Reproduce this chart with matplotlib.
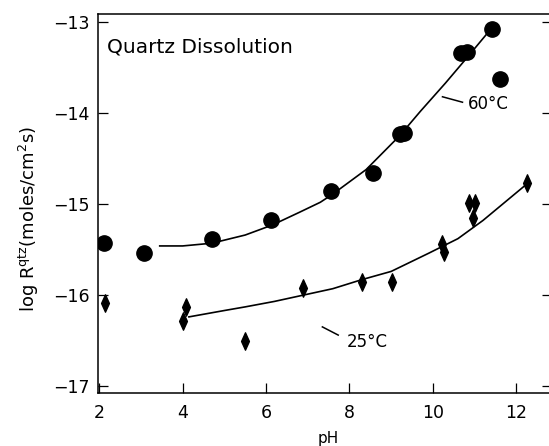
import matplotlib
matplotlib.use("Agg")
import matplotlib.pyplot as plt
from matplotlib.path import Path

plt.rcParams['font.family'] = ['DejaVu Sans']
plt.rcParams['mathtext.fontset'] = 'dejavusans'

# 60 C measurements (circles)
ph_60 = [2.12, 3.08, 4.71, 6.13, 7.56, 8.57, 9.2, 9.3, 10.68, 10.82, 11.42, 11.62]
rate_60 = [-15.43, -15.54, -15.38, -15.18, -14.86, -14.66, -14.23, -14.22, -13.34, -13.33, -13.07, -13.62]

# 60 C fitted curve
fit_ph_60 = [3.45, 4.0, 4.7, 5.5, 6.15, 6.8, 7.3, 7.6, 8.4, 9.2, 9.7, 10.3, 10.8, 11.4]
fit_rate_60 = [-15.46, -15.46, -15.43, -15.34, -15.23, -15.09, -14.98, -14.89,
               -14.62, -14.25, -13.98, -13.67, -13.40, -13.07]

# 25 C measurements (diamonds)
ph_25 = [2.14, 4.0, 4.08, 5.5, 6.89, 8.31, 9.03, 10.22, 10.27, 10.86, 11.02, 10.97, 12.26]
rate_25 = [-16.09, -16.29, -16.13, -16.5, -15.92, -15.86, -15.86, -15.44, -15.53,
           -14.99, -14.99, -15.15, -14.77]

# 25 C fitted curve
fit_ph_25 = [4.15, 5.0, 5.5, 6.2, 6.9, 7.6, 8.3, 9.0, 9.9, 10.6, 11.2, 12.25]
fit_rate_25 = [-16.24, -16.17, -16.13, -16.07, -16.0, -15.93, -15.83, -15.74,
               -15.54, -15.38, -15.18, -14.78]

x_ticks = [2, 4, 6, 8, 10, 12]
y_ticks = [-17, -16, -15, -14, -13]

# tall narrow diamond marker
diamond = Path([(0, 1), (0.45, 0), (0, -1), (-0.45, 0), (0, 1)],
               [Path.MOVETO, Path.LINETO, Path.LINETO, Path.LINETO, Path.CLOSEPOLY])

fig = plt.figure(figsize=(5.49, 4.46), dpi=100)
ax = fig.add_axes([0.1785, 0.1188, 0.8265, 0.8498])

ax.plot(fit_ph_60, fit_rate_60, color='black', lw=1.2)
ax.plot(fit_ph_25, fit_rate_25, color='black', lw=1.2)
ax.plot(ph_60, rate_60, 'o', color='black', ms=11, ls='none')
ax.plot(ph_25, rate_25, marker=diamond, color='black', ms=12.5, ls='none')

ax.set_xlim(1.97, 12.85)
ax.set_ylim(-17.077, -12.91)
ax.set_xticks(x_ticks)
ax.set_yticks(y_ticks)
ax.set_yticklabels(['\u221217', '\u221216', '\u221215', '\u221214', '\u221213'])

ax.tick_params(direction='in', length=7, width=0.9, labelsize=12.5,
               right=True, top=False)
ax.tick_params(axis='x', pad=8)
ax.tick_params(axis='y', pad=6)
for sp in ax.spines.values():
    sp.set_linewidth(1.1)

ax.set_xlabel('pH', fontsize=11)
ax.xaxis.set_label_coords(0.507, -0.1)
ax.set_ylabel(r'log R$^{\rm qtz}$(moles/cm$^2$s)', fontsize=13)
ax.yaxis.set_label_coords(-0.125, 0.46)

ax.text(2.19, -13.27, 'Quartz Dissolution', fontsize=14.5, ha='left', va='center')

# curve labels with leader lines
ax.text(11.33, -13.9, '60\u00b0C', fontsize=12, ha='center', va='center')
ax.plot([10.23, 10.71], [-13.82, -13.88], color='black', lw=1.1)
ax.text(8.43, -16.52, '25\u00b0C', fontsize=12, ha='center', va='center')
ax.plot([7.35, 7.73], [-16.35, -16.44], color='black', lw=1.1)

fig.savefig('out.png', dpi=100)
